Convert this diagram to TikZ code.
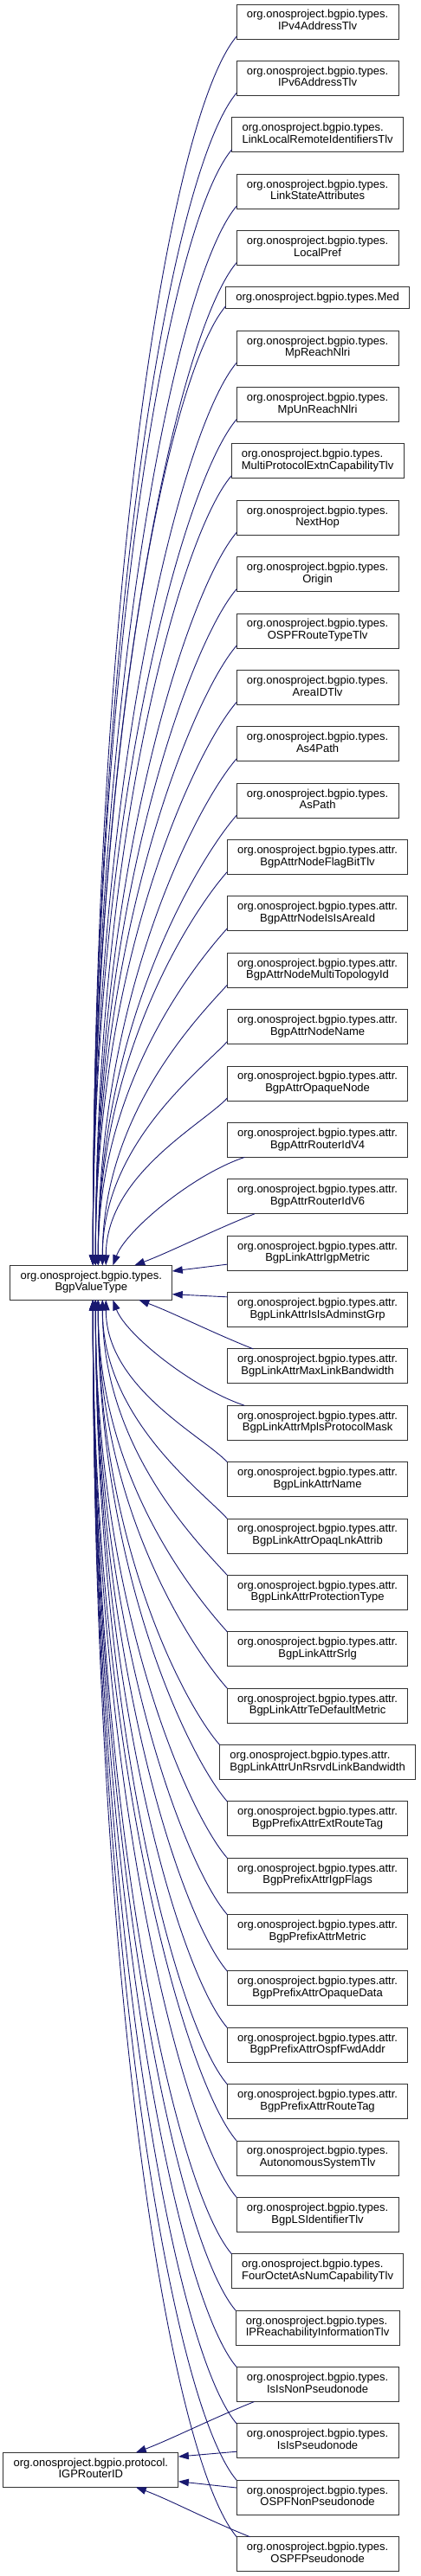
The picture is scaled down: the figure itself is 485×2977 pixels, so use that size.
\documentclass[tikz,border=0pt]{standalone}
\usepackage{fontspec}
\setmainfont{Liberation Sans}
\usepackage{xcolor}
\usetikzlibrary{arrows.meta, positioning, calc}

\definecolor{edgeblue}{HTML}{191970}

% two-line class label: package line left, class name centred
\newcommand{\clslabel}[2]{\begin{tabular}{@{}c@{}}\multicolumn{1}{@{}l@{}}{#1}\\#2\end{tabular}}
\newcommand{\bgptypes}[1]{\clslabel{org.onosproject.bgpio.types.}{#1}}
\newcommand{\bgpattr}[1]{\clslabel{org.onosproject.bgpio.types.attr.}{#1}}

\begin{document}
\begin{tikzpicture}[
    x=1pt, y=1pt,
    node distance=25.37pt,
    cls/.style={
        rectangle, draw=black!80, fill=white, line width=1pt,
        inner xsep=11.8pt, inner ysep=2pt, outer sep=0pt,
        minimum height=40pt, font=\fontsize{13}{13.7}\selectfont
    },
    inh/.style={-{Triangle[length=12pt, width=8.5pt]}, draw=edgeblue, line width=0.9pt}
]
    \useasboundingbox (0,0) rectangle (485,-2977);

    % base classes
    \node[cls] (base) at (105.3,-1482.3) {\bgptypes{BgpValueType}};
    \node[cls] (igp) at (104.8,-2854.3) {\clslabel{org.onosproject.bgpio.protocol.}{IGPRouterID}};

    % subclasses, one column
    \node[cls] (ipv4) at (366.6,-25) {\bgptypes{IPv4AddressTlv}};
    \node[cls, below=of ipv4] (ipv6) {\bgptypes{IPv6AddressTlv}};
    \node[cls, below=of ipv6] (linkid) {\bgptypes{LinkLocalRemoteIdentifiersTlv}};
    \node[cls, below=of linkid] (lsattr) {\bgptypes{LinkStateAttributes}};
    \node[cls, below=of lsattr] (localpref) {\bgptypes{LocalPref}};
    \node[cls, below=of localpref, minimum height=25pt] (med) {org.onosproject.bgpio.types.Med};
    \node[cls, below=of med] (mpreach) {\bgptypes{MpReachNlri}};
    \node[cls, below=of mpreach] (mpunreach) {\bgptypes{MpUnReachNlri}};
    \node[cls, below=of mpunreach] (mpcap) {\bgptypes{MultiProtocolExtnCapabilityTlv}};
    \node[cls, below=of mpcap] (nexthop) {\bgptypes{NextHop}};
    \node[cls, below=of nexthop] (origin) {\bgptypes{Origin}};
    \node[cls, below=of origin] (ospfroute) {\bgptypes{OSPFRouteTypeTlv}};
    \node[cls, below=of ospfroute] (areaid) {\bgptypes{AreaIDTlv}};
    \node[cls, below=of areaid] (as4path) {\bgptypes{As4Path}};
    \node[cls, below=of as4path] (aspath) {\bgptypes{AsPath}};
    \node[cls, below=of aspath] (nflag) {\bgpattr{BgpAttrNodeFlagBitTlv}};
    \node[cls, below=of nflag] (nisis) {\bgpattr{BgpAttrNodeIsIsAreaId}};
    \node[cls, below=of nisis] (nmtid) {\bgpattr{BgpAttrNodeMultiTopologyId}};
    \node[cls, below=of nmtid] (nname) {\bgpattr{BgpAttrNodeName}};
    \node[cls, below=of nname] (nopaque) {\bgpattr{BgpAttrOpaqueNode}};
    \node[cls, below=of nopaque] (rid4) {\bgpattr{BgpAttrRouterIdV4}};
    \node[cls, below=of rid4] (rid6) {\bgpattr{BgpAttrRouterIdV6}};
    \node[cls, below=of rid6] (ligp) {\bgpattr{BgpLinkAttrIgpMetric}};
    \node[cls, below=of ligp] (ladmin) {\bgpattr{BgpLinkAttrIsIsAdminstGrp}};
    \node[cls, below=of ladmin] (lmaxbw) {\bgpattr{BgpLinkAttrMaxLinkBandwidth}};
    \node[cls, below=of lmaxbw] (lmpls) {\bgpattr{BgpLinkAttrMplsProtocolMask}};
    \node[cls, below=of lmpls] (lname) {\bgpattr{BgpLinkAttrName}};
    \node[cls, below=of lname] (lopaq) {\bgpattr{BgpLinkAttrOpaqLnkAttrib}};
    \node[cls, below=of lopaq] (lprot) {\bgpattr{BgpLinkAttrProtectionType}};
    \node[cls, below=of lprot] (lsrlg) {\bgpattr{BgpLinkAttrSrlg}};
    \node[cls, below=of lsrlg] (ltemetric) {\bgpattr{BgpLinkAttrTeDefaultMetric}};
    \node[cls, below=of ltemetric] (lunrsv) {\bgpattr{BgpLinkAttrUnRsrvdLinkBandwidth}};
    \node[cls, below=of lunrsv] (pextrt) {\bgpattr{BgpPrefixAttrExtRouteTag}};
    \node[cls, below=of pextrt] (pigpfl) {\bgpattr{BgpPrefixAttrIgpFlags}};
    \node[cls, below=of pigpfl] (pmetric) {\bgpattr{BgpPrefixAttrMetric}};
    \node[cls, below=of pmetric] (popaque) {\bgpattr{BgpPrefixAttrOpaqueData}};
    \node[cls, below=of popaque] (pospf) {\bgpattr{BgpPrefixAttrOspfFwdAddr}};
    \node[cls, below=of pospf] (prttag) {\bgpattr{BgpPrefixAttrRouteTag}};
    \node[cls, below=of prttag] (autosys) {\bgptypes{AutonomousSystemTlv}};
    \node[cls, below=of autosys] (lsid) {\bgptypes{BgpLSIdentifierTlv}};
    \node[cls, below=of lsid] (fouroct) {\bgptypes{FourOctetAsNumCapabilityTlv}};
    \node[cls, below=of fouroct] (ipreach) {\bgptypes{IPReachabilityInformationTlv}};
    \node[cls, below=of ipreach] (isisnon) {\bgptypes{IsIsNonPseudonode}};
    \node[cls, below=of isisnon] (isispseudo) {\bgptypes{IsIsPseudonode}};
    \node[cls, below=of isispseudo] (ospfnon) {\bgptypes{OSPFNonPseudonode}};
    \node[cls, below=of ospfnon] (ospfpseudo) {\bgptypes{OSPFPseudonode}};

    % edges into the top of BgpValueType
    \foreach \c/\dx in {ipv4/2, ipv6/2, linkid/2, lsattr/2, localpref/2, med/2, mpreach/2, mpunreach/2,
                        mpcap/5, nexthop/5, origin/5, ospfroute/5, areaid/5, as4path/8, aspath/8,
                        nflag/8, nisis/8, nmtid/13, nname/13, nopaque/17}
        \draw[inh] let \p1=([yshift=3pt]\c.south west), \p2=([xshift=\dx pt]base.north), \n1={\y1-\y2} in
            (\p1) .. controls +({-20-0.042*\n1}, {-20-0.053*\n1}) and +(0, {0.54*\n1}) .. (\p2);
    \draw[inh] ([xshift=20pt]rid4.south west) .. controls +(-60,-20) and +(15,40) .. ([xshift=25pt]base.north);
    \draw[inh] ([xshift=31.6pt]rid6.south west) .. controls +(-50,-20) and +(40,15) .. ([xshift=50pt]base.north);

    % edges into the side
    \draw[inh] ([yshift=-13pt]ligp.west) -- ([yshift=13.3pt]base.east);
    \draw[inh] ([yshift=14.7pt]ladmin.west) -- ([yshift=-13.4pt]base.east);

    % edges into the bottom
    \draw[inh] ([xshift=30pt]lmaxbw.north west) .. controls +(-50,20) and +(40,-15) .. ([xshift=55pt]base.south);
    \draw[inh] ([xshift=20pt]lmpls.north west) .. controls +(-60,20) and +(15,-40) .. ([xshift=25pt]base.south);
    \foreach \c/\dx in {lname/17, lopaq/13, lprot/13, lsrlg/8, ltemetric/8, lunrsv/8, pextrt/8,
                        pigpfl/5, pmetric/5, popaque/5, pospf/5, prttag/5, autosys/2, lsid/2,
                        fouroct/2, ipreach/2, isisnon/2, isispseudo/2, ospfnon/2, ospfpseudo/2}
        \draw[inh] let \p1=(\c.north west), \p2=([xshift=\dx pt]base.south), \n1={\y2-\y1} in
            (\p1) .. controls +({-20-0.042*\n1}, {20+0.053*\n1}) and +(0, {-0.54*\n1}) .. (\p2);

    % IGPRouterID
    \draw[inh] ([xshift=20.3pt]isisnon.south west) .. controls +(-50,-20) and +(40,15) .. ([xshift=52pt]igp.north);
    \draw[inh] ([yshift=-12.3pt]isispseudo.west) -- ([yshift=15.3pt]igp.east);
    \draw[inh] ([yshift=11.3pt]ospfnon.west) -- ([yshift=-13.4pt]igp.east);
    \draw[inh] ([xshift=15.3pt]ospfpseudo.north west) .. controls +(-50,20) and +(40,-15) .. ([xshift=52pt]igp.south);
\end{tikzpicture}
\end{document}
